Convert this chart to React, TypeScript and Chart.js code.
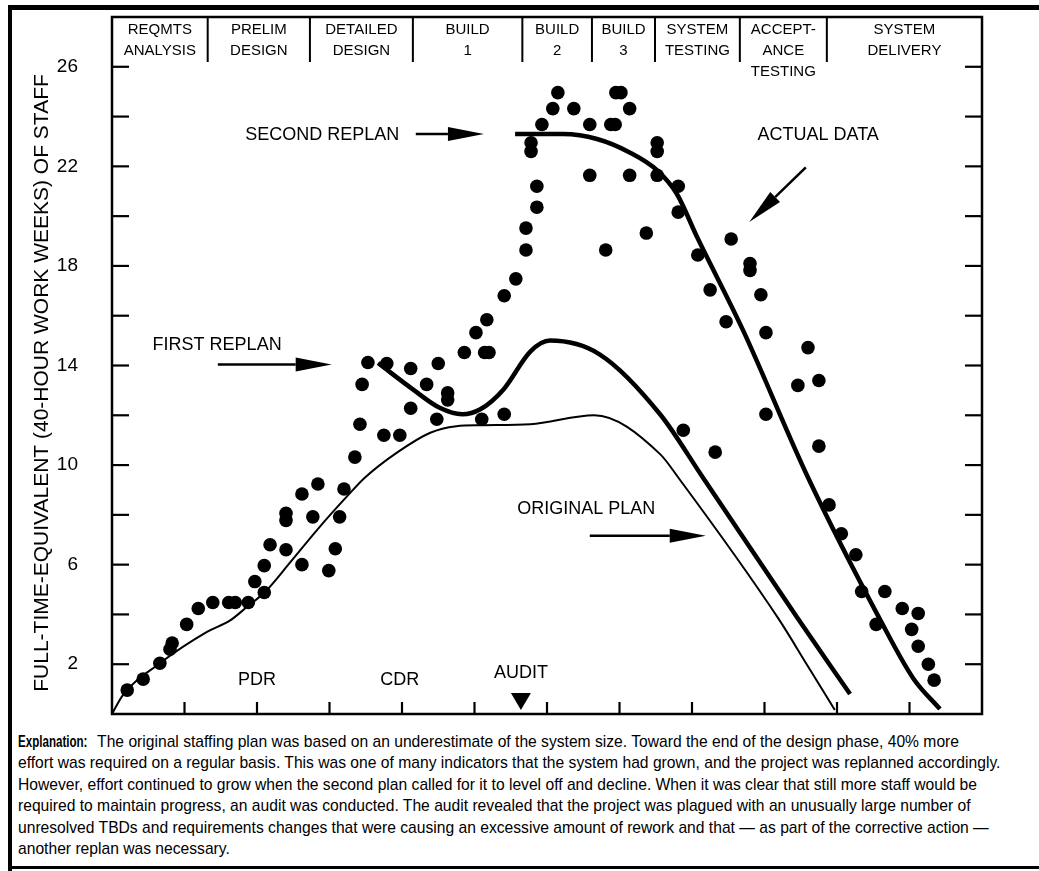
import React, { useEffect, useRef } from "react";
import { Chart, registerables } from "chart.js";

Chart.register(...registerables);

// ---------- data (x = time units, y = full-time-equivalent staff) ----------
const Y_TICK_LABELS = [2, 6, 10, 14, 18, 22, 26];

const PHASE_BOUNDS = [0, 1.32, 2.73, 4.15, 5.66, 6.62, 7.49, 8.66, 9.86, 12];
const PHASE_LABELS = [
  ["REQMTS", "ANALYSIS"],
  ["PRELIM", "DESIGN"],
  ["DETAILED", "DESIGN"],
  ["BUILD", "1"],
  ["BUILD", "2"],
  ["BUILD", "3"],
  ["SYSTEM", "TESTING"],
  ["ACCEPT-", "ANCE", "TESTING"],
  ["SYSTEM", "DELIVERY"],
];

const ORIGINAL_X = [0, 0.15, 0.66, 1.31, 1.63, 1.86, 2.11, 2.46, 2.83, 3.26, 3.49, 3.93, 4.39, 4.75, 5.08, 5.77, 6.65, 7.56, 7.81, 9.19, 9.59, 9.97];
const ORIGINAL_Y = [0, 0.76, 2.04, 3.3, 3.76, 4.3, 4.9, 6.1, 7.4, 8.8, 9.5, 10.5, 11.3, 11.56, 11.6, 11.64, 12.0, 10.44, 9.5, 3.84, 1.96, 0.16];

const FIRST_X = [3.67, 4.15, 4.52, 4.83, 5.08, 5.4, 5.77, 6.04, 6.73, 7.56, 8.15, 9.46, 10.18];
const FIRST_Y = [14.1, 13.04, 12.3, 12.04, 12.24, 13.04, 14.56, 15.0, 14.44, 12.04, 9.5, 3.84, 0.8];

const SECOND_X = [5.56, 6.22, 6.69, 7.14, 7.52, 7.79, 8.07, 8.7, 9.6, 10.6, 11.05, 11.42];
const SECOND_Y = [23.3, 23.3, 23.1, 22.56, 21.84, 20.9, 19.16, 15.44, 9.5, 3.76, 1.44, 0.2];

const ACTUAL_X = [
  0.21, 0.43, 0.66, 0.8, 0.83, 1.03, 1.19, 1.39, 1.61, 1.7, 1.88, 1.97, 2.1, 2.1, 2.18,
  2.4, 2.4, 2.4, 2.62, 2.62, 2.77, 2.84, 2.99, 3.08, 3.14, 3.2, 3.35, 3.42, 3.45, 3.53,
  3.79, 3.75, 3.97, 4.12, 4.12, 4.34, 4.5, 4.48, 4.63, 4.63, 4.86, 5.02, 5.14, 5.2, 5.1,
  5.17, 5.41, 5.41, 5.57, 5.71, 5.71, 5.86, 5.86, 5.78, 5.78, 5.93, 6.08, 6.15, 6.37, 6.59,
  6.59, 6.81, 6.88, 6.94, 6.95, 7.02, 7.14, 7.14, 7.37, 7.52, 7.52, 7.52, 7.81, 7.81, 8.08,
  7.88, 8.25, 8.32, 8.47, 8.54, 8.8, 8.8, 8.95, 9.02, 9.02, 9.46, 9.6, 9.75, 9.75, 9.89,
  10.06, 10.26, 10.34, 10.54, 10.66, 10.9, 11.12, 11.03, 11.12, 11.26, 11.34,
];
const ACTUAL_Y = [
  0.96, 1.4, 2.04, 2.6, 2.85, 3.6, 4.24, 4.48, 4.48, 4.48, 4.48, 5.32, 4.88, 5.96, 6.8,
  6.6, 7.78, 8.06, 6.0, 8.84, 7.92, 9.24, 5.76, 6.64, 7.92, 9.04, 10.32, 11.64, 13.24, 14.12,
  14.08, 11.2, 11.2, 13.88, 12.28, 13.24, 14.08, 11.84, 12.62, 12.9, 14.52, 15.32, 14.52, 14.52, 11.84,
  15.84, 16.8, 12.04, 17.48, 18.64, 19.52, 20.36, 21.2, 22.6, 22.95, 23.68, 24.32, 24.96, 24.32, 23.68,
  21.64, 18.64, 23.68, 23.68, 24.96, 24.96, 24.32, 21.64, 19.32, 22.6, 22.95, 21.64, 21.2, 20.16, 18.44,
  11.4, 17.04, 10.52, 15.76, 19.08, 17.82, 18.1, 16.84, 15.32, 12.04, 13.2, 14.72, 13.4, 10.76, 8.4,
  7.24, 6.4, 4.92, 3.6, 4.92, 4.24, 4.04, 3.4, 2.72, 2.0, 1.36,
];

// annotation texts and anchors (in data units)
const NOTE_TEXTS = ["SECOND REPLAN", "FIRST REPLAN", "ORIGINAL PLAN", "ACTUAL DATA", "PDR", "CDR", "AUDIT"];
const NOTE_X = [2.9, 1.45, 6.54, 9.74, 2.0, 3.97, 5.64];
const NOTE_Y = [23.24, 14.84, 8.24, 23.24, 1.36, 1.36, 1.64];

// arrows: start and tip in data units
const ARROW_FROM_X = [4.19, 1.46, 6.59, 9.57];
const ARROW_FROM_Y = [23.3, 14.04, 7.16, 21.96];
const ARROW_TO_X = [5.13, 3.03, 8.19, 8.79];
const ARROW_TO_Y = [23.3, 14.04, 7.16, 19.76];

const AUDIT_MARK_X = 5.64;

const Y_TITLE = "FULL-TIME-EQUIVALENT (40-HOUR WORK WEEKS) OF STAFF";

const EXPLANATION_LINES = [
  "effort was required on a regular basis. This was one of many indicators that the system had grown, and the project was replanned accordingly.",
  "However, effort continued to grow when the second plan called for it to level off and decline. When it was clear that still more staff would be",
  "required to maintain progress, an audit was conducted. The audit revealed that the project was plagued with an unusually large number of",
  "unresolved TBDs and requirements changes that were causing an excessive amount of rework and that \u2014 as part of the corrective action \u2014",
  "another replan was necessary.",
];
const EXPLANATION_FIRST =
  "The original staffing plan was based on an underestimate of the system size. Toward the end of the design phase, 40% more";

const FONT = '"Liberation Sans", Arial, Helvetica, sans-serif';

function pts(xs: number[], ys: number[]) {
  return xs.map((x, i) => ({ x, y: ys[i] }));
}

const overlayPlugin = {
  id: "overlay",
  afterDatasetsDraw(chart: any) {
    const { ctx, chartArea: a, scales } = chart;
    const xs = scales.x;
    const ys = scales.y;
    const line = (x1: number, y1: number, x2: number, y2: number) => {
      ctx.beginPath();
      ctx.moveTo(x1, y1);
      ctx.lineTo(x2, y2);
      ctx.stroke();
    };
    ctx.save();
    ctx.strokeStyle = "#000";
    ctx.fillStyle = "#000";
    ctx.lineCap = "butt";

    // plot frame
    ctx.lineWidth = 2.5;
    ctx.strokeRect(a.left, a.top, a.right - a.left, a.bottom - a.top);

    // inward ticks
    ctx.lineWidth = 2.2;
    for (let v = 2; v <= 26; v += 2) {
      const py = ys.getPixelForValue(v);
      line(a.left, py, a.left + 17, py);
      line(a.right - 17, py, a.right, py);
    }
    for (let u = 1; u <= 11; u++) {
      const px = xs.getPixelForValue(u);
      line(px, a.bottom, px, a.bottom - 12);
    }

    // phase header
    ctx.lineWidth = 2;
    for (let i = 1; i < PHASE_BOUNDS.length - 1; i++) {
      const px = xs.getPixelForValue(PHASE_BOUNDS[i]);
      line(px, a.top, px, a.top + 45);
    }
    ctx.font = `15px ${FONT}`;
    ctx.textAlign = "center";
    ctx.textBaseline = "middle";
    PHASE_LABELS.forEach((lines, i) => {
      const cx = (xs.getPixelForValue(PHASE_BOUNDS[i]) + xs.getPixelForValue(PHASE_BOUNDS[i + 1])) / 2;
      lines.forEach((t, j) => ctx.fillText(t, cx, a.top + 13 + j * 21));
    });

    // annotations
    ctx.font = `18px ${FONT}`;
    NOTE_TEXTS.forEach((t, i) => {
      ctx.fillText(t, xs.getPixelForValue(NOTE_X[i]), ys.getPixelForValue(NOTE_Y[i]));
    });

    // arrows
    ARROW_FROM_X.forEach((_, i) => {
      const x1 = xs.getPixelForValue(ARROW_FROM_X[i]);
      const y1 = ys.getPixelForValue(ARROW_FROM_Y[i]);
      const x2 = xs.getPixelForValue(ARROW_TO_X[i]);
      const y2 = ys.getPixelForValue(ARROW_TO_Y[i]);
      const ang = Math.atan2(y2 - y1, x2 - x1);
      const hl = 36;
      const hw = 7;
      const bx = x2 - hl * Math.cos(ang);
      const by = y2 - hl * Math.sin(ang);
      ctx.lineWidth = 2.5;
      line(x1, y1, bx, by);
      ctx.beginPath();
      ctx.moveTo(x2, y2);
      ctx.lineTo(bx + hw * Math.sin(ang), by - hw * Math.cos(ang));
      ctx.lineTo(bx - hw * Math.sin(ang), by + hw * Math.cos(ang));
      ctx.closePath();
      ctx.fill();
    });

    // audit triangle
    const ax = xs.getPixelForValue(AUDIT_MARK_X);
    ctx.beginPath();
    ctx.moveTo(ax - 10, a.bottom - 21);
    ctx.lineTo(ax + 10, a.bottom - 21);
    ctx.lineTo(ax, a.bottom - 4);
    ctx.closePath();
    ctx.fill();

    // y axis title
    ctx.save();
    ctx.translate(42, 383);
    ctx.rotate(-Math.PI / 2);
    ctx.font = `21px ${FONT}`;
    ctx.fillText(Y_TITLE, 0, 0);
    ctx.restore();

    ctx.restore();
  },
};

export default function App() {
  const ref = useRef<HTMLCanvasElement | null>(null);

  useEffect(() => {
    if (!ref.current) return;
    const chart = new Chart(ref.current, {
      type: "scatter",
      data: {
        datasets: [
          {
            type: "line",
            label: "Original plan",
            data: pts(ORIGINAL_X, ORIGINAL_Y),
            borderColor: "#000",
            borderWidth: 2,
            pointRadius: 0,
            cubicInterpolationMode: "monotone",
            fill: false,
          } as any,
          {
            type: "line",
            label: "First replan",
            data: pts(FIRST_X, FIRST_Y),
            borderColor: "#000",
            borderWidth: 4.5,
            pointRadius: 0,
            cubicInterpolationMode: "monotone",
            fill: false,
          } as any,
          {
            type: "line",
            label: "Second replan",
            data: pts(SECOND_X, SECOND_Y),
            borderColor: "#000",
            borderWidth: 4.5,
            pointRadius: 0,
            cubicInterpolationMode: "monotone",
            fill: false,
          } as any,
          {
            type: "scatter",
            label: "Actual data",
            data: pts(ACTUAL_X, ACTUAL_Y),
            backgroundColor: "#000",
            borderWidth: 0,
            pointRadius: 6.8,
          } as any,
        ],
      },
      options: {
        responsive: false,
        maintainAspectRatio: false,
        animation: false,
        events: [],
        layout: { padding: { left: 0, top: 17, right: 57, bottom: 16 } },
        plugins: { legend: { display: false }, tooltip: { enabled: false } },
        scales: {
          x: { type: "linear", min: 0, max: 12, display: false },
          y: {
            type: "linear",
            min: 0,
            max: 28,
            afterFit: (s: any) => {
              s.width = 112;
            },
            ticks: {
              stepSize: 2,
              autoSkip: false,
              padding: 0,
              color: "#000",
              font: { size: 19, family: FONT },
              callback: (v: any) => (Y_TICK_LABELS.includes(Number(v)) ? String(v) : ""),
            },
            grid: {
              display: true,
              drawOnChartArea: false,
              drawTicks: true,
              tickLength: 34,
              tickColor: "rgba(0,0,0,0)",
            },
            border: { display: false },
            title: { display: false },
          },
        },
      },
      plugins: [overlayPlugin],
    });
    return () => chart.destroy();
  }, []);

  return (
    <div style={{ position: "absolute", left: 0, top: 0, width: 1039, height: 871, background: "#fff", overflow: "hidden" }}>
      <canvas ref={ref} width={1039} height={730} style={{ position: "absolute", left: 0, top: 0, width: 1039, height: 730 }} />
      <div style={{ position: "absolute", left: 8, top: 5, width: 1031, height: 5, background: "#000" }} />
      <div style={{ position: "absolute", left: 8, top: 5, width: 4, height: 866, background: "#000" }} />
      <div style={{ position: "absolute", left: 8, top: 866, width: 1031, height: 3, background: "#000" }} />
      <div
        style={{
          position: "absolute",
          left: 18,
          top: 731,
          fontFamily: FONT,
          fontSize: 17,
          lineHeight: "21.4px",
          color: "#000",
          whiteSpace: "nowrap",
          transform: "scaleX(0.92)",
          transformOrigin: "left top",
        }}
      >
        <div>
          <span style={{ display: "inline-block", width: 86, verticalAlign: "top" }}>
            <span
              style={{
                fontWeight: "bold",
                display: "inline-block",
                transform: "scaleX(0.74)",
                transformOrigin: "left center",
              }}
            >
              Explanation:
            </span>
          </span>
          <span>{EXPLANATION_FIRST}</span>
        </div>
        {EXPLANATION_LINES.map((t, i) => (
          <div key={i}>{t}</div>
        ))}
      </div>
    </div>
  );
}
